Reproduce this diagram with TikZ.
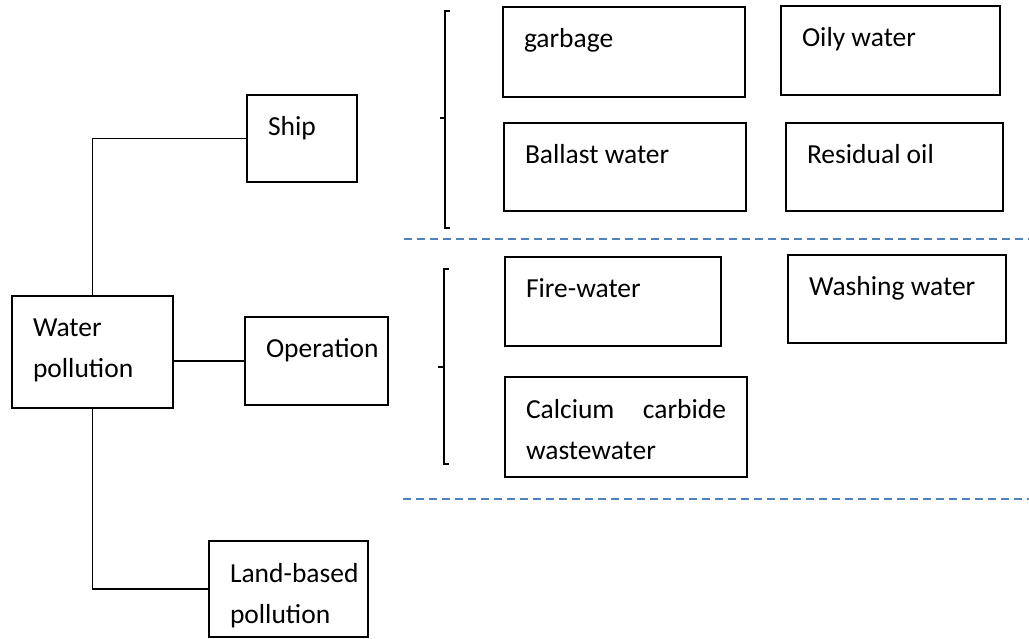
\documentclass[tikz,border=0pt]{standalone}
\usepackage{fontspec}
\setmainfont{Carlito}
\definecolor{dashblue}{HTML}{4F81BD}
\tikzset{
  wbox/.style={draw, line width=1.6pt, anchor=north west, inner xsep=21pt, inner ysep=0pt,
    outer sep=0pt, font=\fontsize{27.5}{41}\selectfont},
  link/.style={line width=1.8pt},
  bracket/.style={line width=1.9pt},
  divider/.style={dashblue, line width=1.8pt, dash pattern=on 8pt off 5pt}
}
% box text: width, height, text (first baseline 41pt below the top edge)
\newcommand\boxtext[3]{\parbox[t][#2pt][t]{\dimexpr#1pt-42pt\relax}{%
  \hyphenpenalty=10000 \exhyphenpenalty=10000 \rule{0pt}{41pt}#3}}

\begin{document}
\begin{tikzpicture}[x=1pt, y=-1pt, line cap=butt]

  %% ==== left column ====
  \node[wbox] (water) at (12,296) {\boxtext{161}{112}{Water\\pollution}};
  \node[wbox] (ship) at (247,95) {\boxtext{110}{87}{Ship}};
  \node[wbox] (oper) at (245,317) {\boxtext{143}{88}{Operation}};
  \node[wbox] (land) at (209,541) {\boxtext{159}{96}{Land-based\\pollution}};

  %% ==== ship sources ====
  \node[wbox] (garbage) at (503,7) {\boxtext{242}{90}{garbage}};
  \node[wbox] (oily) at (781,6) {\boxtext{219}{89}{Oily water}};
  \node[wbox] (ballast) at (504,123) {\boxtext{242}{88}{Ballast water}};
  \node[wbox] (residual) at (786,123) {\boxtext{217}{88}{Residual oil}};

  %% ==== operation sources ====
  \node[wbox] (fire) at (505,257) {\boxtext{216}{89}{Fire-water}};
  \node[wbox] (washing) at (788,255) {\boxtext{218}{88}{Washing water}};
  \node[wbox] (calcium) at (505,377) {\boxtext{242}{100}{Calcium carbide wastewater}};

  %% ==== connectors ====
  \draw[link] (water.north) |- (ship.west);
  \draw[link] (water.east |- oper.west) -- (oper.west);
  \draw[link] (water.south) |- (land.west);

  %% ==== brackets ====
  \draw[bracket] (450,11) -- (445,11) -- (445,228) -- (450,228);
  \draw[bracket] (445,118) -- (440,118);
  \draw[bracket] (449,269) -- (444,269) -- (444,464) -- (449,464);
  \draw[bracket] (444,367) -- (438,367);

  %% ==== dashed dividers ====
  \draw[divider] (404,239) -- (1029,239);
  \draw[divider] (403,499) -- (1029,499);

  \pgfresetboundingbox
  \path[use as bounding box] (0,0) rectangle (1029,639);
\end{tikzpicture}
\end{document}
